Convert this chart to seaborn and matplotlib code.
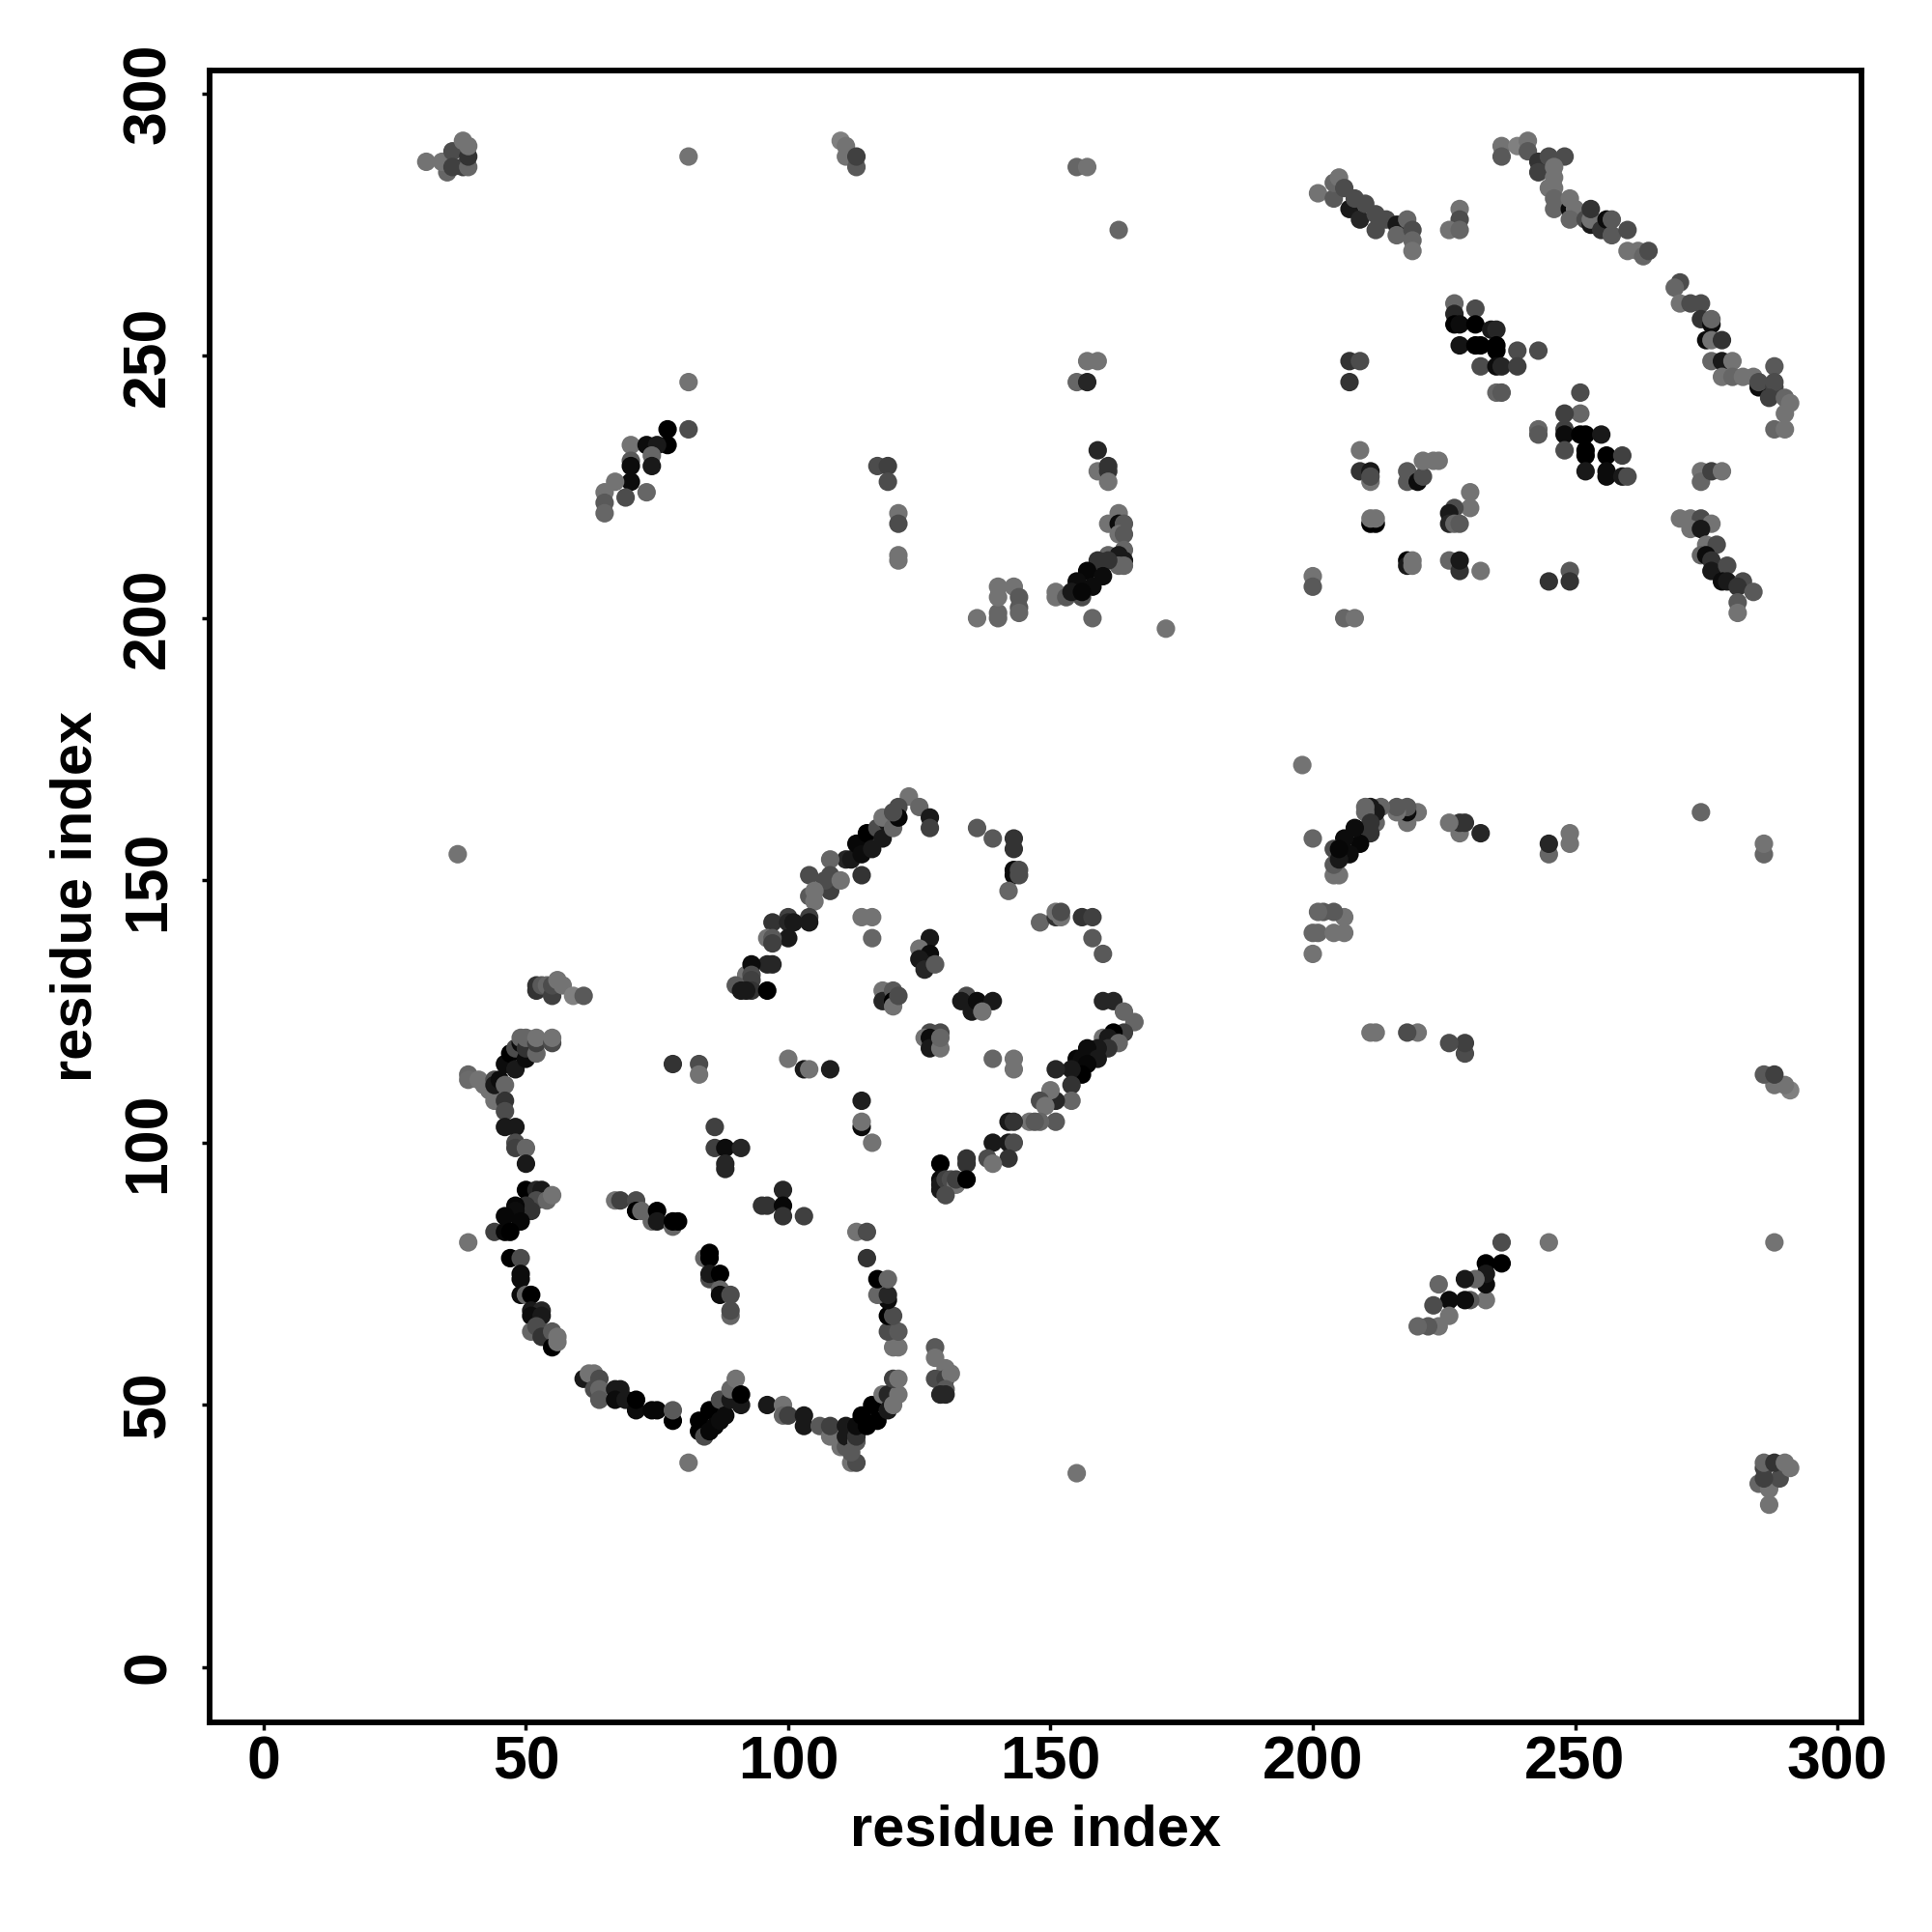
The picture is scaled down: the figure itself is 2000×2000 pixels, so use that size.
import matplotlib
matplotlib.use("Agg")
import pandas as pd
import seaborn as sns
import matplotlib.pyplot as plt

# contacts: (residue x, residue y, grey level)
# lower left block
strand_a = [(52,130,.2),(52,129,.2),(53,130,.35),(54,130,.4),(55,128,.25),(55,130,.3),(56,131,.45),(57,130,.45),(59,128,.5),(61,128,.35)]
arc_left = [(39,113,.4),(39,112,.42),(41,112,.45),(42,111,.45),(43,110,.45),(44,108,.45),(44,112,.3),(44,111,.1),(45,112,.05),
            (46,115,.05),(46,111,.4),(46,108,.2),(46,106,.3),(47,117,0),(48,114,.1),(48,118,.3),(49,119,.05),(49,120,.4),
            (50,116,.05),(50,118,.2),(50,120,.4),(52,117,.4),(52,119,.25),(52,120,.45),(55,119,.3),(55,120,.45),
            (46,103,.1),(48,103,.1),(48,100,.3),(48,99,.25),(50,99,.4),(50,96,.1)]
arc_mid = [(50,91,0),(52,91,.15),(53,91,.1),(52,89,.3),(54,89,.4),(55,90,.45),(51,87,.2),(50,88,.2),(48,88,.03),(48,87,.05),
           (46,86,.03),(49,85,.03),(44,83,.25),(46,83,.03),(47,83,0),(39,81,.45),(81,39,.45)]
arc_low = [(47,78,0),(49,78,.3),(49,75,.05),(49,74,.05),(49,71,.05),(50,71,.4),(51,71,0),(51,68,.1),(53,68,.15),(51,67,.05),
           (53,67,.1),(51,64,.4),(52,65,.3),(53,64,.3),(53,63,.2),(55,64,.35),(55,61,0),(56,63,.45),(56,62,.45)]
arc_bottom = [(61,55,.1),(62,56,.45),(63,56,.45),(64,55,.3),(63,53,.3),(64,53,.4),(64,51,.35),(67,53,.1),(68,53,.1),(67,51,.05),
              (69,51,.1),(71,49,.05),(71,51,0),(74,49,.03),(75,49,.03),(78,47,0),(78,49,.35),
              (83,47,0),(83,45,0),(84,44,.3),(85,45,.03),(85,49,0),(86,46,.03),(87,47,.05),(87,51,.3),(88,48,.05),
              (89,51,.1),(89,53,.4),(90,55,.45),(91,50,.1),(91,52,0)]
arc_right = [(96,50,.1),(99,50,.45),(99,48,.4),(100,48,.25),(103,48,.1),(103,46,.1),(106,46,.35),(108,44,.45),(108,46,.25),
             (110,42,.45),(111,42,.35),(111,44,.1),(111,46,.1),(112,39,.45),(113,39,.3),(112,41,.35),(113,43,.35),(113,44,.2),
             (113,46,.05),(114,48,0),(115,46,0),(116,50,0),(117,47,0),(118,52,.45),(119,49,.1),(119,52,.15),(120,50,.45),
             (121,52,.45),(120,55,.25),(121,55,.45),(120,61,.45),(121,61,.45),(119,64,.3),(121,64,.35),(119,67,0),(120,67,.3),
             (119,70,.05),(117,71,.4),(119,71,.15),(117,74,0),(119,74,.4),(115,78,.2),(113,83,.45),(115,83,.3)]
strand_b = [(128,61,.35),(128,59,.45),(130,57,.45),(128,55,.3),(130,55,.25),(131,56,.45),(130,53,.35),(129,52,.15),(130,52,.15)]
inner_low = [(67,89,.45),(68,89,.25),(71,89,.3),(71,87,0),(72,87,.4),(74,85,.4),(75,87,0),(75,85,.1),(78,84,.4),(78,85,0),(79,85,0),
             (78,115,.2),(83,115,.3),(83,113,.45),(86,103,.25),(86,99,.25),(88,99,.05),(91,99,.15),(88,96,.15),(88,95,.15),
             (99,91,.15),(95,88,.2),(96,88,.2),(99,88,.03),(99,86,.2),(103,86,.25),
             (84,78,.4),(85,79,0),(85,78,0),(85,74,.3),(85,75,.1),(87,75,0),(87,72,.4),(87,71,.05),(89,71,.3),(89,67,.4),(89,68,.3),
             (100,116,.45),(103,114,.1),(104,114,.45),(108,114,.12),(114,108,.12),(114,103,.05),(114,104,.45),(116,100,.45)]
band_top = [(123,166,.45),(125,164,.4),(121,164,.3),(127,162,.1),(127,160,.25),
            (114,151,.2),(111,154,.15),(112,154,.1),(113,157,.03),(114,155,.05),(115,159,0),(116,156,.1),(117,160,.3),
            (118,158,.1),(119,161,.1),(118,162,.45),(120,160,.4),(121,162,.03),(120,163,.3),
            (108,154,.4),(104,151,.3),(108,151,.3),(108,148,.25),(107,150,.3),(110,150,.45),(104,147,.35),(105,146,.45),(105,148,.45),
            (100,143,.25),(104,143,.25),(104,142,.1),(97,142,.2),(100,142,.15),(101,142,.1),(100,139,.1),(96,139,.45),(97,139,.35),(97,138,.25),
            (96,134,.15),(97,134,.15),(92,132,.45),(93,134,.05),(93,132,.3),(93,131,.25),(90,130,.35),(93,129,.2),(91,129,.1),(92,129,.1),(96,129,0)]
right_loop = [(136,160,.35),(139,158,.35),(143,158,.2),(143,156,.2),(143,152,.05),(143,151,.05),(144,152,.3),(144,151,.3),(142,148,.4),
              (148,142,.4),(151,143,.2),(151,144,.45),(152,143,.45),(152,144,.3),(156,143,.2),(158,143,.25),(158,139,.35),(160,136,.35),
              (114,143,.45),(116,143,.45),(116,139,.4)]
centre = [(127,139,.1),(125,137,.45),(127,136,.05),(125,135,.1),(126,134,.1),(126,133,.15),(128,134,.35),
          (118,129,.45),(118,127,.15),(120,129,.35),(120,127,0),(120,126,.45),(121,128,.3),
          (134,128,.3),(133,127,.1),(135,125,.1),(136,127,.05),(139,127,.1),(137,125,.45),
          (127,121,.3),(129,121,.3),(126,120,.45),(127,120,.05),(127,118,.1),(129,118,.45),(129,120,.4),
          (139,116,.4),(143,116,.45),(143,114,.45)]
band_right = [(160,127,.15),(162,127,.15),(164,125,.4),(166,123,.4),(164,121,.25),(162,121,0),(160,120,.45),(161,120,.1),(163,119,.4),
              (161,118,.2),(159,118,.1),(157,118,.05),(159,116,.1),(155,116,.03),(156,116,.05),(157,115,.03),(155,113,.03),(156,113,0),
              (154,114,.1),(151,114,.15),(154,111,.2),(154,108,.4),(151,108,.15),(150,110,.45),(148,108,.3),(149,107,.45),
              (151,104,.35),(148,104,.4),(146,104,.45),(147,104,.35),(142,104,.1),(143,104,.2),(142,100,.1),(143,100,.3),(139,100,.1),
              (142,97,.2),(138,97,.3),(139,96,.45),(134,97,.2),(134,96,.2),(129,96,0),(129,93,.05),(129,92,.1),(129,91,.1),
              (130,93,.25),(131,93,.3),(132,92,.45),(132,93,.25),(130,90,.3),(134,93,0)]

# upper right block
diag_one = [(201,281,.45),(204,280,.35),(204,283,.4),(205,284,.45),(206,282,.3),(207,278,.1),(208,280,.3),(209,276,.15),(210,279,.3),
            (212,274,.3),(212,277,.3),(214,276,.3),(216,275,.1),(216,273,.4),(218,276,.4),(219,274,.3),(219,272,.4),(219,270,.45),
            (228,278,.45),(228,276,.3),(226,274,.45),(228,274,.4)]
diag_two = [(236,290,.45),(236,288,.35),(239,290,.5),(241,291,.45),(241,289,.35),(243,287,.2),(243,285,.25),(245,288,.3),(248,288,.3),
            (246,286,.45),(246,284,.45),(245,282,.45),(246,282,.45),(246,280,.4),(246,278,.4),(249,278,.05),(249,280,.45),(250,278,.45),
            (249,276,.4),(252,276,.3),(253,275,.1),(253,276,.45),(253,278,.2),(255,274,.2),(256,276,.05),(257,276,.35),(257,273,.35),
            (260,274,.3),(260,270,.45),(262,270,.45),(263,269,.4),(264,270,.3)]
diag_three = [(270,264,.3),(269,263,.4),(270,260,.45),(272,260,.3),(274,260,.3),(274,257,.2),(276,256,.05),(276,257,.4),(275,253,.05),
              (276,253,.45),(278,253,.2),(276,249,.4),(278,249,.1),(280,249,.45),(278,246,.45),(280,246,.4),(282,246,.45),(284,246,.45),
              (285,244,.05),(285,245,.3),(288,248,.35),(288,244,.25),(288,245,.3),(287,242,.25),(290,242,.4),(291,241,.45),(290,239,.45),
              (288,236,.4),(290,236,.45)]
block_one = [(227,260,.4),(227,258,.15),(231,259,.3),(227,256,0),(228,256,.05),(231,256,0),(234,255,.1),(235,255,.15),(228,252,.08),
             (231,252,0),(232,252,0),(235,252,0),(235,251,0),(239,251,.3),(243,251,.3),(232,248,.3),(235,248,.05),(236,248,.15),
             (239,248,.25),(235,243,.4),(236,243,.35),(207,249,.2),(209,249,.3),(207,245,.2)]
block_two = [(251,243,.3),(251,239,.4),(248,239,.25),(248,236,.25),(248,235,.05),(248,232,.3),(251,235,0),(252,235,0),(255,235,.1),
             (252,232,0),(252,231,0),(256,231,0),(259,231,.25),(252,228,.1),(256,228,.05),(256,227,.05),(259,227,.1),(260,227,.3),
             (243,236,.4),(243,235,.35)]
scatter_mid = [(209,232,.45),(209,228,.2),(211,228,.1),(211,226,.45),(211,227,.3),(218,228,.35),(218,226,.35),(220,226,.05),(221,227,.3),
               (221,230,.45),(223,230,.45),(224,230,.45),(230,224,.45),(230,221,.45),(227,221,.3),(226,220,.1),(226,218,.15),(227,218,.4),(228,218,.35),
               (211,218,0),(212,218,0),(211,219,.45),(212,219,.45),(218,211,0),(218,210,.1),(219,211,.45),(219,210,.45),
               (226,211,.4),(228,209,.2),(228,211,.1),(232,209,.45),(249,209,.35),(249,207,.2),(245,207,.2),
               (200,208,.45),(200,206,.35),(206,200,.4),(208,200,.45)]
diag_four = [(270,219,.45),(272,219,.45),(274,219,.3),(276,218,.45),(272,217,.45),(274,217,.1),(275,214,.45),(277,214,.3),(274,212,.4),
             (275,212,.05),(276,211,.2),(276,209,.1),(279,210,.3),(278,207,.05),(279,207,.1),(282,207,.3),(281,206,.2),(284,205,.35),
             (281,203,.35),(281,201,.45),(274,228,.45),(274,226,.4),(276,228,.25),(278,228,.45)]

# off diagonal contacts, the map is symmetric so each one is drawn twice
off_far = [(31,287,.45),(35,285,.4),(34,287,.45),(36,289,.3),(36,286,.25),(38,286,.25),(39,286,.4),(38,291,.45),(39,288,.2),(39,290,.45),
           (37,155,.45),(81,288,.45),(110,291,.5),(111,290,.45),(111,288,.45),(113,286,.35),(113,288,.25),
           (155,286,.4),(157,286,.45),(163,274,.4)]
off_near = [(81,245,.45),(81,236,.3),(77,236,0),(77,233,0),(70,233,.45),(73,233,.05),(75,233,.1),(74,231,.4),(70,230,.35),(70,229,.05),
            (74,229,.1),(70,226,.05),(67,226,.45),(73,224,.4),(69,223,.3),(65,224,.45),(65,222,.35),(65,220,.4),
            (117,229,.3),(119,229,.25),(119,226,.3),(121,220,.45),(121,218,.3),(121,212,.45),(121,211,.45)]
off_mid = [(159,232,.15),(159,228,.45),(161,229,.2),(161,228,.2),(161,226,.45),(157,249,.45),(159,249,.45),(155,245,.4),(157,245,.15),
           (163,220,.45),(161,218,.45),(163,218,.05),(164,218,.35),(163,216,.45),(164,216,.35),(164,213,.4),(161,212,.4),(163,212,.1),
           (164,211,.1),(163,210,.4),(164,210,.4),(159,211,.2),(161,211,.2),(157,209,.03),(160,208,.05),(158,206,.05),(155,207,.05),
           (151,205,.45),(151,204,.45),(153,204,.35),(156,204,.3),(154,205,.1),(156,205,.03),
           (158,200,.4),(172,198,.45),(136,200,.45),(140,200,.4),(140,201,.4),(140,204,.45),(140,206,.45),(143,206,.45),
           (144,204,.35),(144,202,.35),(144,201,.4)]

lists_plain = [strand_a, arc_left, arc_mid, arc_low, arc_bottom, arc_right, strand_b, inner_low, band_top, right_loop,
               centre, band_right, diag_one, diag_two, diag_three, block_one, block_two, scatter_mid, diag_four]
lists_off = [off_far, off_near, off_mid]

rows = []
for part in lists_plain:
    rows += part
for part in lists_off:
    rows += part
    rows += [(b, a, g) for a, b, g in part]
df = pd.DataFrame(rows, columns=["i", "j", "grey"])

sns.set_theme(style="white")
plt.rcParams["font.family"] = ["Liberation Sans", "DejaVu Sans"]
plt.rcParams["font.weight"] = "bold"

fig = plt.figure(figsize=(20, 20), dpi=100)
ax = fig.add_axes([217/2000, 217/2000, 1710/2000, 1710/2000])

sns.scatterplot(data=df, x="i", y="j", hue="grey", palette="gray", hue_norm=(0, 1),
                s=190, linewidth=0, legend=False, ax=ax)

ax.set_xlim(-10.3, 304.6)
ax.set_ylim(-10.5, 304.4)
ticks = [0, 50, 100, 150, 200, 250, 300]
ax.set_xticks(ticks)
ax.set_yticks(ticks)
ax.tick_params(axis="both", length=6, width=2.5, color="black", labelsize=45, labelcolor="black", bottom=True, left=True)
ax.tick_params(axis="x", pad=3)
ax.tick_params(axis="y", pad=18)
for lab in ax.get_yticklabels():
    lab.set_rotation(90)
    lab.set_va("center")
for side in ax.spines.values():
    side.set_visible(True)
    side.set_linewidth(4.2)
    side.set_color("black")

ax.set_xlabel("residue index", fontsize=42.9, fontweight="bold", color="black", va="center")
ax.set_ylabel("residue index", fontsize=42.9, fontweight="bold", color="black", va="center")
ax.xaxis.set_label_coords(0.5, -0.0655)
ax.yaxis.set_label_coords(-0.0807, 0.5)

fig.savefig("out.png", dpi=100, facecolor="white")
